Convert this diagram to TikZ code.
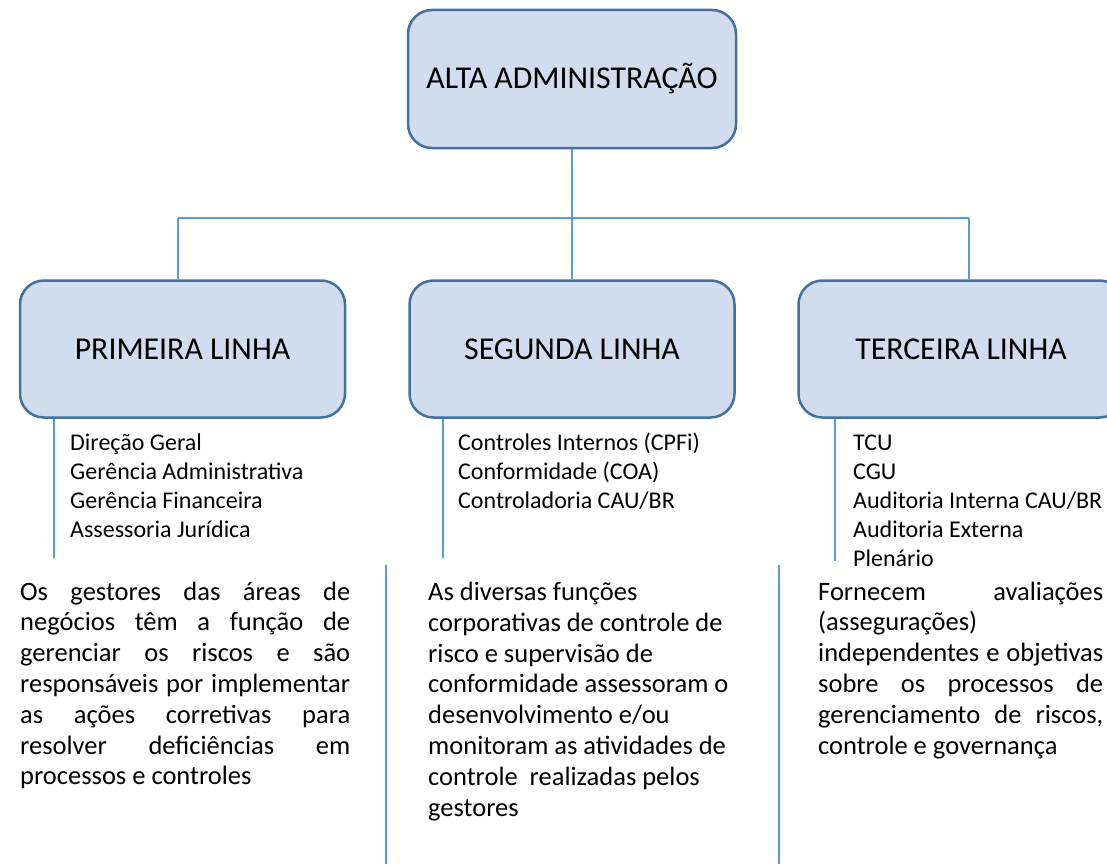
\documentclass[tikz,border=0pt]{standalone}
\usepackage{fontspec}
\setmainfont{Carlito}
\usetikzlibrary{positioning}
\definecolor{boxfill}{RGB}{209,221,238}
\definecolor{boxline}{RGB}{65,113,156}
\definecolor{conline}{RGB}{91,155,213}
\hyphenpenalty=10000
\exhyphenpenalty=10000
\tolerance=10000
\tikzset{
  linha/.style={draw=boxline, fill=boxfill, line width=2.5pt, rounded corners=24pt,
    minimum width=325pt, minimum height=137pt, font=\fontsize{31.8}{38}\selectfont},
  conector/.style={draw=conline, line width=1.5pt},
  lista/.style={anchor=base west, text width=260pt, align=flush left, inner sep=0pt, font=\fontsize{24}{29}\selectfont},
  texto/.style={anchor=base west, inner sep=0pt, font=\fontsize{26.5}{30.8}\selectfont}
}
\begin{document}
\begin{tikzpicture}[x=1pt,y=-1pt]
\useasboundingbox (0,0) rectangle (1107,864);
% caixas
\node[linha, minimum width=328pt, minimum height=138pt] (alta) at (572,79) {ALTA ADMINISTRAÇÃO};
\node[linha] (primeira) at (182.5,349) {PRIMEIRA LINHA};
\node[linha] (segunda) at (572,349) {SEGUNDA LINHA};
\node[linha] (terceira) at (961,349) {TERCEIRA LINHA};
% ligacoes
\coordinate (barra) at (572,218);
\coordinate (barra-e) at (178,218);
\coordinate (barra-d) at (969,218);
\draw[conector] (alta.south) -- (barra);
\draw[conector] (barra-e) -- (barra-d);
\draw[conector] (barra-e) -- (barra-e |- primeira.north);
\draw[conector] (barra) -- (segunda.north);
\draw[conector] (barra-d) -- (barra-d |- terceira.north);
% listas
\coordinate (fim1) at (54,558);
\coordinate (fim2) at (443,558);
\coordinate (fim3) at (835,561);
\draw[conector] (fim1 |- primeira.south) -- (fim1);
\draw[conector] (fim2 |- segunda.south) -- (fim2);
\draw[conector] (fim3 |- terceira.south) -- (fim3);
\node[lista] (lista1) at (70,450) {Direção Geral\\Gerência Administrativa\\Gerência Financeira\\Assessoria Jurídica};
\node[lista] (lista2) at (458,450) {Controles Internos (CPFi)\\Conformidade (COA)\\Controladoria CAU/BR};
\node[lista] (lista3) at (853,450) {TCU\\CGU\\Auditoria Interna CAU/BR\\Auditoria Externa\\Plenário};
% separadores
\coordinate (sep1a) at (386,565);
\coordinate (sep1b) at (386,864);
\coordinate (sep2a) at (779,565);
\coordinate (sep2b) at (779,864);
\draw[conector] (sep1a) -- (sep1b);
\draw[conector] (sep2a) -- (sep2b);
% textos
\node[texto, text width=330pt, align=justify] (texto1) at (20,600) {Os gestores das áreas de\linebreak negócios têm a função de\linebreak gerenciar os riscos e são\linebreak responsáveis por implementar\linebreak as ações corretivas para\linebreak resolver deficiências em\linebreak processos e controles};
\node[texto, text width=320pt, align=flush left] (texto2) at (428,600.5) {As diversas funções\\corporativas de controle de\\risco e supervisão de\\conformidade assessoram o\\desenvolvimento e/ou\\monitoram as atividades de\\controle\ \ realizadas pelos\\gestores};
\node[texto, text width=285pt, align=justify] (texto3) at (818,600) {Fornecem avaliações\linebreak (assegurações)\linebreak independentes e objetivas\linebreak sobre os processos de\linebreak gerenciamento de riscos,\linebreak controle e governança};
\end{tikzpicture}
\end{document}
